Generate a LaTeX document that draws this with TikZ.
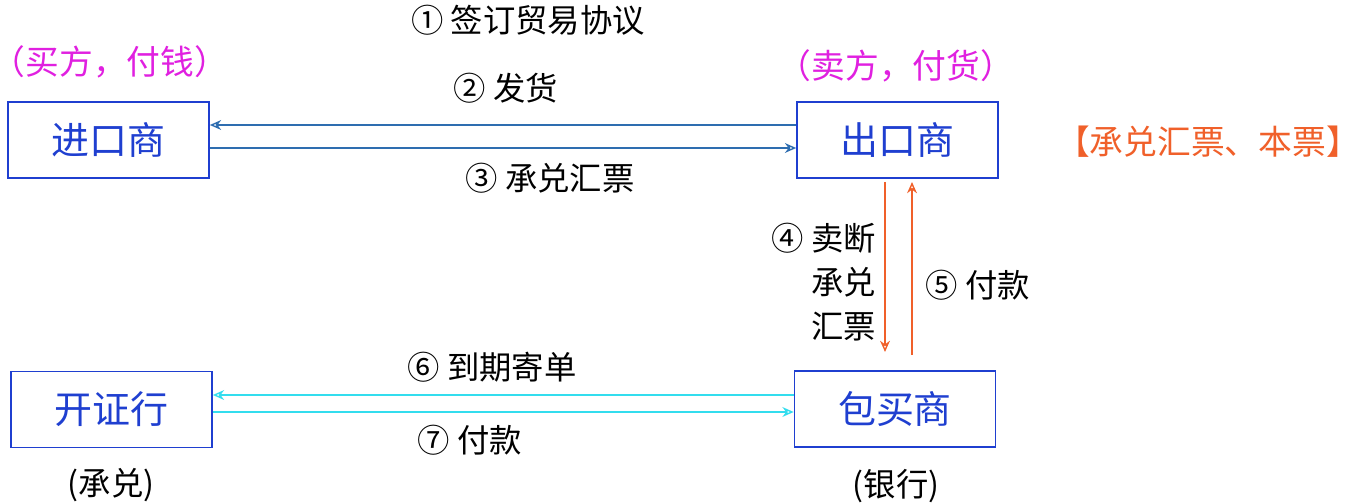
\documentclass[tikz,border=0pt]{standalone}
\usepackage{fontspec}
\setmainfont{Noto Sans CJK SC}
\usetikzlibrary{arrows.meta}
\definecolor{bx}{HTML}{1F3FD0}
\definecolor{ln}{HTML}{2E6DB0}
\definecolor{org}{HTML}{F0602A}
\definecolor{cy}{HTML}{33DDEE}
\definecolor{mg}{HTML}{E020E0}
\tikzset{
 box/.style={draw=bx,line width=1.2pt,minimum width=201*0.025cm,minimum height=76*0.025cm,inner sep=0pt,text=bx,font=\fontsize{27}{30}\selectfont},
 lab/.style={font=\fontsize{23}{27}\selectfont,inner sep=0pt},
 arr/.style={-{Stealth[open,length=8pt,width=7pt]},line width=1pt}
}
\begin{document}
\begin{tikzpicture}[x=0.025cm,y=-0.025cm]
\useasboundingbox (0,0) rectangle (1352,504);
\node[box] (imp) at (108.5,140) {进口商};
\node[box] (exp) at (897.5,140) {出口商};
\node[box] (iss) at (111.5,409.5) {开证行};
\node[box] (fac) at (895,409) {包买商};
\draw[arr,ln] (exp.west|-0,125) -- (imp.east|-0,125);
\draw[arr,ln] (imp.east|-0,148) -- (exp.west|-0,148);
\coordinate (d1) at (885,182); \coordinate (d2) at (885,352);
\coordinate (u1) at (912,355); \coordinate (u2) at (912,182);
\draw[arr,org] (d1) -- (d2);
\draw[arr,org] (u1) -- (u2);
\draw[arr,cy] (fac.west|-0,395) -- (iss.east|-0,395);
\draw[arr,cy] (iss.east|-0,412) -- (fac.west|-0,412);
\node[lab] (l1) at (528,20) {① 签订贸易协议};
\node[lab] (l2) at (506,88) {② 发货};
\node[lab] (l3) at (550,178) {③ 承兑汇票};
\node[lab,text=mg,font=\fontsize{24}{27}\selectfont] (b1) at (110,62) {（买方，付钱）};
\node[lab,text=mg,font=\fontsize{24}{27}\selectfont] (b2) at (896,66) {（卖方，付货）};
\node[lab,text=org,font=\fontsize{24}{27}\selectfont] (b3) at (1208,142) {【承兑汇票、本票】};
\node[lab,anchor=east,align=right,font=\fontsize{23}{31.5}\selectfont] (l4) at (876,282) {④ 卖断\\承兑\\汇票};
\node[lab] (l5) at (978,285) {⑤ 付款};
\node[lab] (l6) at (492,367) {⑥ 到期寄单};
\node[lab] (l7) at (470,440) {⑦ 付款};
\node[lab] (c1) at (111,485) {(承兑)};
\node[lab] (c2) at (896,486) {(银行)};
\end{tikzpicture}
\end{document}
